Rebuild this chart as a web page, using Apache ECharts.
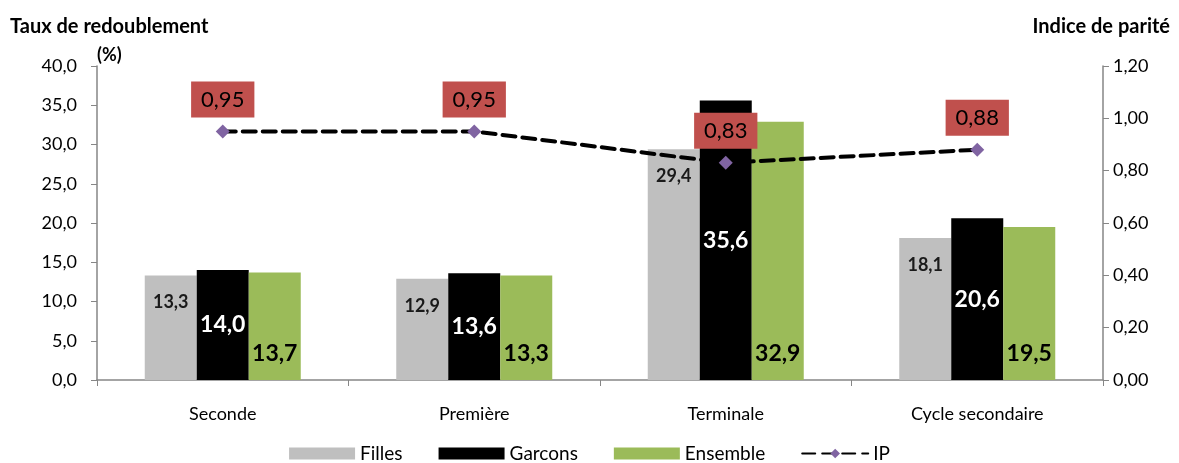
<!DOCTYPE html>
<html>
<head>
<meta charset="utf-8">
<script src="https://cdn.jsdelivr.net/npm/echarts@6/dist/echarts.min.js"></script>
<style>
  html, body { margin: 0; padding: 0; background: #fff; }
  #chart { width: 1179px; height: 463px; }
</style>
</head>
<body>
<div id="chart"></div>
<script>
// Niveaux d'enseignement
const categories = ['Seconde', 'Première', 'Terminale', 'Cycle secondaire'];
// Taux de redoublement (%)
const filles = [13.3, 12.9, 29.4, 18.1];
const garcons = [14.0, 13.6, 35.6, 20.6];
const ensemble = [13.7, 13.3, 32.9, 19.5];
// Indice de parité
const ip = [0.95, 0.95, 0.83, 0.88];

const FONT = 'Lato, "Open Sans", sans-serif';
const fmt = (v, d) => v.toFixed(d).replace('.', ',');
const AXIS_GREY = '#868686';

const chart = echarts.init(document.getElementById('chart'));

chart.setOption({
  animation: false,
  textStyle: { fontFamily: FONT },
  grid: { left: 97, right: 76, top: 66, bottom: 83 },
  graphic: [
    { type: 'text', left: 10, top: 17,
      style: { text: 'Taux de redoublement', font: 'bold 20px ' + FONT, fill: '#000' } },
    { type: 'text', left: 97, top: 46,
      style: { text: '(%)', font: 'bold 18px ' + FONT, fill: '#000' } },
    { type: 'text', right: 9, top: 17,
      style: { text: 'Indice de parité', font: 'bold 20px ' + FONT, fill: '#000' } }
  ],
  legend: {
    top: 444,
    left: 'center',
    padding: 0,
    itemWidth: 66,
    itemHeight: 12,
    itemGap: 36,
    textStyle: { fontSize: 19, color: '#000', fontFamily: FONT },
    data: [
      { name: 'Filles', icon: 'rect' },
      { name: 'Garcons', icon: 'rect' },
      { name: 'Ensemble', icon: 'rect' },
      { name: 'IP' }
    ]
  },
  xAxis: {
    type: 'category',
    data: categories,
    axisLine: { lineStyle: { color: AXIS_GREY, width: 1.5 } },
    axisTick: { show: true, length: 6, lineStyle: { color: AXIS_GREY } },
    axisLabel: { fontSize: 18, color: '#000', margin: 25, fontFamily: FONT }
  },
  yAxis: [
    {
      type: 'value',
      min: 0, max: 40, interval: 5,
      splitLine: { show: false },
      axisLine: { show: true, lineStyle: { color: AXIS_GREY, width: 1.5 } },
      axisTick: { show: true, length: 6, lineStyle: { color: AXIS_GREY } },
      axisLabel: { fontSize: 18, color: '#000', margin: 20, fontFamily: FONT,
        formatter: v => fmt(v, 1) }
    },
    {
      type: 'value',
      min: 0, max: 1.2, interval: 0.2,
      splitLine: { show: false },
      axisLine: { show: true, lineStyle: { color: AXIS_GREY, width: 1.5 } },
      axisTick: { show: true, length: 6, lineStyle: { color: AXIS_GREY } },
      axisLabel: { fontSize: 18, color: '#000', margin: 10, fontFamily: FONT,
        formatter: v => fmt(v, 2) }
    }
  ],
  series: [
    {
      name: 'Filles', type: 'bar', data: filles,
      barWidth: 52, barGap: '0%',
      itemStyle: { color: '#bfbfbf' },
      label: { show: true, position: 'insideTop', distance: 18,
        fontSize: 18, fontWeight: 'bold', color: '#1a1a1a', fontFamily: FONT,
        formatter: p => fmt(p.value, 1) }
    },
    {
      name: 'Garcons', type: 'bar', data: garcons,
      barWidth: 52, barGap: '0%',
      itemStyle: { color: '#000000' },
      label: { show: true, position: 'inside',
        fontSize: 23, fontWeight: 'bold', color: '#ffffff', fontFamily: FONT,
        formatter: p => fmt(p.value, 1) }
    },
    {
      name: 'Ensemble', type: 'bar', data: ensemble,
      barWidth: 52, barGap: '0%',
      itemStyle: { color: '#9bbb59' },
      label: { show: true, position: 'insideBottom', distance: 15,
        fontSize: 23, fontWeight: 'bold', color: '#000', fontFamily: FONT,
        formatter: p => fmt(p.value, 1) }
    },
    {
      name: 'IP', type: 'line', yAxisIndex: 1, data: ip,
      z: 5,
      symbol: 'diamond', symbolSize: 14,
      itemStyle: { color: '#8064a2' },
      lineStyle: { color: '#000', width: 4, type: [13, 7], cap: 'round' },
      label: { show: true, position: 'top', distance: 7,
        fontSize: 22, color: '#000', fontFamily: FONT,
        backgroundColor: '#c0504d', padding: [7, 10, 7, 10],
        formatter: p => fmt(p.value, 2) }
    }
  ]
});
</script>
</body>
</html>
